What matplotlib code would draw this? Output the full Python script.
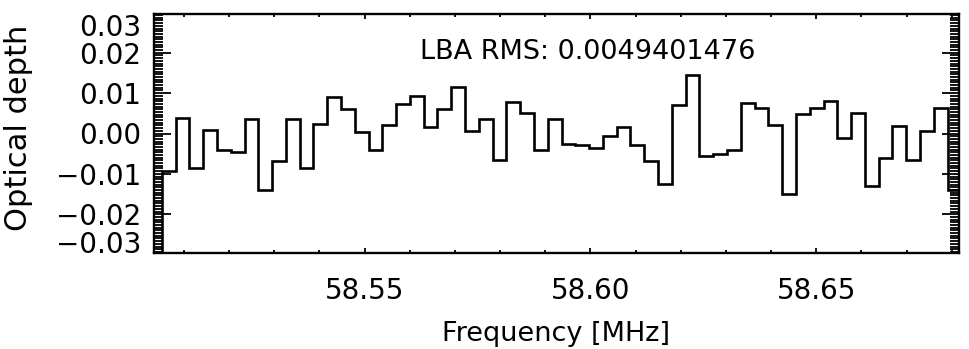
import matplotlib
matplotlib.use("Agg")
import matplotlib.pyplot as plt
import matplotlib.ticker as mtick
import numpy as np

# channel centre frequencies (MHz) and optical depth per channel
freq = [58.50663, 58.50968, 58.51273, 58.51578, 58.51884, 58.52189, 58.52494,
        58.52799, 58.53104, 58.53410, 58.53715, 58.54020, 58.54325, 58.54630,
        58.54936, 58.55241, 58.55546, 58.55851, 58.56156, 58.56461, 58.56767,
        58.57072, 58.57377, 58.57682, 58.57987, 58.58293, 58.58598, 58.58903,
        58.59208, 58.59513, 58.59819, 58.60124, 58.60429, 58.60734, 58.61039,
        58.61344, 58.61650, 58.61955, 58.62260, 58.62565, 58.62870, 58.63176,
        58.63481, 58.63786, 58.64091, 58.64396, 58.64702, 58.65007, 58.65312,
        58.65617, 58.65922, 58.66227, 58.66533, 58.66838, 58.67143, 58.67448,
        58.67753, 58.68059]
tau = [-0.0093, 0.0039, -0.0085, 0.0009, -0.0040, -0.0045, 0.0036, -0.0141,
       -0.0068, 0.0035, -0.0085, 0.0024, 0.0090, 0.0061, 0.0003, -0.0041,
       0.0022, 0.0074, 0.0093, 0.0015, 0.0061, 0.0114, 0.0007, 0.0036,
       -0.0065, 0.0078, 0.0050, -0.0041, 0.0035, -0.0026, -0.0028, -0.0036,
       -0.0007, 0.0016, -0.0028, -0.0067, -0.0126, 0.0071, 0.0145, -0.0055,
       -0.0052, -0.0041, 0.0076, 0.0063, 0.0022, -0.0150, 0.0049, 0.0063,
       0.0080, -0.0011, 0.0050, -0.0130, -0.0060, 0.0019, -0.0065, 0.0005,
       0.0064, -0.0139]
rms = 0.0049401476

yticks = [-0.0296, -0.02, -0.01, 0.0, 0.01, 0.02, 0.0296]
ytick_labels = ["\u22120.03", "\u22120.02", "\u22120.01", "0.00", "0.01", "0.02", "0.03"]
xticks = [58.55, 58.60, 58.65]

plt.rcParams.update({"font.family": "DejaVu Sans"})

f = np.array(freq)
dw = f[1] - f[0]
edges = np.concatenate([[f[0] - dw / 2], 0.5 * (f[1:] + f[:-1]), [f[-1] + dw / 2]])

fig = plt.figure(figsize=(9.69, 3.49), dpi=100)
ax = fig.add_axes([154 / 969, 96 / 349, 805 / 969, 239 / 349])

# histogram-style line, ends drop off below the plot like the IDL psym=10 output
ax.stairs(tau, edges, baseline=-0.1, color="black", lw=1.9)

ax.set_xlim(58.50338, 58.68159)
ax.set_ylim(-0.0296, 0.0296)

ax.set_xticks(xticks)
ax.set_xticklabels([f"{x:.2f}" for x in xticks])
ax.xaxis.set_minor_locator(mtick.MultipleLocator(0.01))
ax.set_yticks(yticks)
ax.set_yticklabels(ytick_labels)
ax.yaxis.set_minor_locator(mtick.MultipleLocator(0.01 / 15))

ax.tick_params(axis="both", which="both", direction="in", top=True, right=True,
               width=1.3, labelsize=20, colors="black")
ax.tick_params(axis="y", which="major", length=12.5, pad=9)
ax.tick_params(axis="y", which="minor", length=6.2)
ax.tick_params(axis="x", which="major", length=3.8, pad=17)
ax.tick_params(axis="x", which="minor", length=1.9)

# IDL-style end labels sit inside the axis range
lbls = ax.get_yticklabels()
lbls[0].set_va("baseline")
lbls[-1].set_va("top")
for t in lbls[1:-1]:
    t.set_va("center_baseline")

for s in ax.spines.values():
    s.set_linewidth(1.7)

ax.set_xlabel("Frequency [MHz]", fontsize=19.5, labelpad=12)
ax.set_ylabel("Optical depth", fontsize=22)
ax.yaxis.set_label_coords(-0.150, 0.525)

ax.text(0.33, 0.84, f"LBA RMS: {rms:.10f}", transform=ax.transAxes,
        fontsize=19.5, ha="left", va="center")

fig.savefig("out.png", dpi=100)
